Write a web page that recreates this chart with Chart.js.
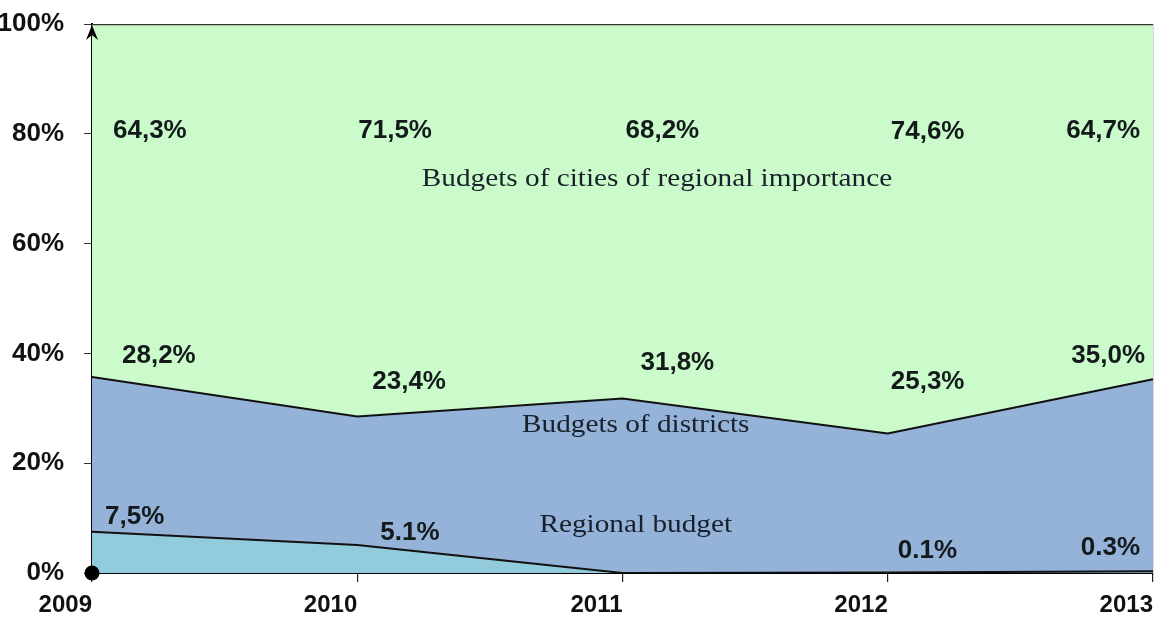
<!DOCTYPE html>
<html>
<head>
<meta charset="utf-8">
<script src="https://cdn.jsdelivr.net/npm/chart.js@4/dist/chart.umd.min.js"></script>
<style>
  html, body { margin: 0; padding: 0; background: #fff; }
  #wrap { width: 1158px; height: 619px; }
</style>
</head>
<body>
<div id="wrap"><canvas id="budgetChart"></canvas></div>
<script>
// shares of revenue by budget level, percent
const years = ['2009', '2010', '2011', '2012', '2013'];
const regional = [7.5, 5.1, 0, 0.1, 0.3];
const districts = [28.2, 23.4, 31.8, 25.3, 35.0];
const cities = [64.3, 71.5, 68.2, 74.6, 64.7];

const regionalText = ['7,5%', '5.1%', '', '0.1%', '0.3%'];
const districtText = ['28,2%', '23,4%', '31,8%', '25,3%', '35,0%'];
const cityText = ['64,3%', '71,5%', '68,2%', '74,6%', '64,7%'];

const seriesNames = ['Regional budget', 'Budgets of districts', 'Budgets of cities of regional importance'];

// where each value label sits: px offset from the year line, height in %, alignment
const labelSpots = {
    cities: [[21, 80.6, 'left'], [1, 80.6, 'left'], [3, 80.6, 'left'], [3, 80.3, 'left'], [-13, 80.6, 'right']],
    districts: [[30, 39.6, 'left'], [15, 34.8, 'left'], [18, 38.3, 'left'], [3, 34.8, 'left'], [-8, 39.6, 'right']],
    regional: [[13, 10.2, 'left'], [23, 7.3, 'left'], [0, 0, 'left'], [10, 4.0, 'left'], [-13, 4.5, 'right']]
};
// series names: category position, height in %
const nameSpots = [[2.05, 8.7], [2.05, 26.8], [2.13, 71.6]];

const sansFamily = '"Liberation Sans", Arial, sans-serif';
const valueFont = 'bold 26px ' + sansFamily;
const nameFont = '25px "Liberation Serif", "Times New Roman", serif';

function drawText(ctx, text, x, y, align, font, stretch) {
    ctx.save();
    ctx.font = font;
    ctx.textBaseline = 'middle';
    ctx.textAlign = align;
    ctx.translate(x, y);
    ctx.scale(stretch, 1);
    ctx.fillText(text, 0, 0);
    ctx.restore();
}

const annotations = {
    id: 'annotations',
    afterDatasetsDraw(chart) {
        const { ctx, scales: { x, y } } = chart;
        ctx.fillStyle = '#141a1c';
        const groups = [[cityText, labelSpots.cities], [districtText, labelSpots.districts], [regionalText, labelSpots.regional]];
        groups.forEach(([texts, spots]) => {
            texts.forEach((t, i) => {
                if (!t) return;
                const [dx, yv, align] = spots[i];
                drawText(ctx, t, x.getPixelForValue(i) + dx, y.getPixelForValue(yv), align, valueFont, 1.0);
            });
        });
        ctx.fillStyle = '#18202c';
        seriesNames.forEach((name, i) => {
            const [xv, yv] = nameSpots[i];
            drawText(ctx, name, x.getPixelForValue(xv), y.getPixelForValue(yv), 'center', nameFont, 1.17);
        });
    },
    afterDraw(chart) {
        const { ctx, chartArea: { left, top, bottom } } = chart;
        // arrow head on the vertical axis
        ctx.save();
        ctx.fillStyle = '#000';
        ctx.beginPath();
        ctx.moveTo(left, top + 1);
        ctx.lineTo(left - 6, top + 16);
        ctx.lineTo(left, top + 11);
        ctx.lineTo(left + 6, top + 16);
        ctx.closePath();
        ctx.fill();
        // origin dot
        ctx.beginPath();
        ctx.arc(left, bottom, 7.5, 0, Math.PI * 2);
        ctx.fill();
        ctx.restore();
    }
};

const canvas = document.getElementById('budgetChart');
new Chart(canvas.getContext('2d'), {
    type: 'line',
    data: {
        labels: years,
        datasets: [{
            label: seriesNames[0],
            data: regional,
            backgroundColor: '#92cbdb',
            borderColor: '#111',
            borderWidth: 2,
            fill: 'origin'
        }, {
            label: seriesNames[1],
            data: districts,
            backgroundColor: '#95b2d8',
            borderColor: '#111',
            borderWidth: 2,
            fill: '-1'
        }, {
            label: seriesNames[2],
            data: cities,
            backgroundColor: '#cbfbca',
            borderColor: '#333',
            borderWidth: 2.5,
            fill: '-1'
        }]
    },
    options: {
        responsive: true,
        maintainAspectRatio: false,
        animation: false,
        elements: { point: { radius: 0 }, line: { tension: 0 } },
        layout: { padding: { top: 24, right: 5, left: 0, bottom: 0 } },
        scales: {
            x: {
                offset: false,
                grid: { color: '#3a3a3a', lineWidth: 1.2, tickLength: 9, tickColor: '#222' },
                border: { color: '#000', width: 2 },
                ticks: {
                    color: '#111', align: 'end', padding: 9, maxRotation: 0, autoSkip: false,
                    font: { family: sansFamily, size: 24, weight: 'bold' }
                },
                afterFit: (scale) => {
                    scale.height = 46;
                    scale.paddingLeft = 0;
                    scale.paddingRight = 0;
                }
            },
            y: {
                stacked: true,
                min: 0,
                max: 100,
                grid: { drawOnChartArea: false, tickLength: 8, tickColor: '#333' },
                border: { color: '#000', width: 2 },
                ticks: {
                    stepSize: 20, color: '#111', padding: 20,
                    font: { family: sansFamily, size: 26, weight: 'bold' },
                    callback: (v) => v + '%'
                },
                afterFit: (scale) => {
                    scale.width = 92;
                    scale.paddingTop = 0;
                    scale.paddingBottom = 0;
                }
            }
        },
        plugins: {
            legend: { display: false },
            tooltip: { enabled: false }
        }
    },
    plugins: [annotations]
});
</script>
</body>
</html>
